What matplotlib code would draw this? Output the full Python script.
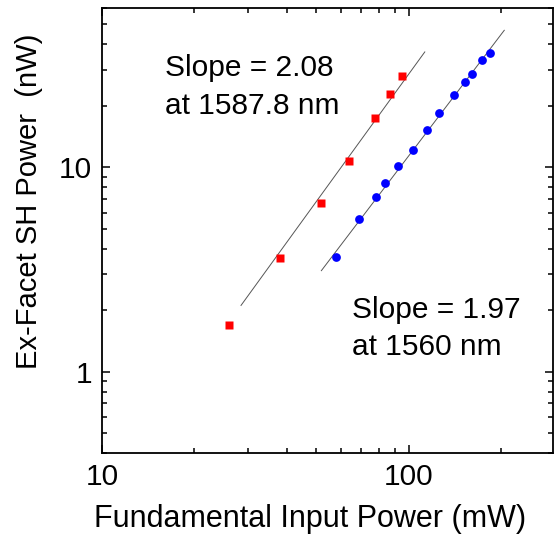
import numpy as np
import matplotlib
matplotlib.use("Agg")
import matplotlib.pyplot as plt
from matplotlib.ticker import LogLocator, NullFormatter, FixedLocator, FixedFormatter

plt.rcParams['font.family'] = ['Liberation Sans', 'DejaVu Sans']

# red squares, 1587.8 nm
red_x = [25.9, 38.0, 51.7, 63.8, 77.5, 86.7, 94.9]
red_y = [1.70, 3.58, 6.66, 10.7, 17.4, 22.8, 27.9]
# blue circles, 1560 nm
blue_x = [57.8, 68.7, 78.1, 83.5, 92.1, 103.0, 114.5, 125.2, 140.2, 152.2, 160.4, 172.9, 183.6]
blue_y = [3.62, 5.56, 7.13, 8.35, 10.1, 12.1, 15.2, 18.4, 22.5, 26.1, 28.6, 33.4, 36.2]
# fit lines (end points)
red_fit_x = [28.4, 112.8]
red_fit_y = [2.11, 36.6]
blue_fit_x = [51.9, 204.8]
blue_fit_y = [3.12, 46.7]

fig = plt.figure(figsize=(5.54, 5.35), dpi=100)
ax = fig.add_axes([0.184, 0.153, 0.814, 0.832])

ax.plot(red_fit_x, red_fit_y, color='#555555', lw=0.7)
ax.plot(blue_fit_x, blue_fit_y, color='#555555', lw=0.7)
ax.plot(red_x, red_y, 's', color='#ff0000', ms=5.5, mec='none')
ax.plot(blue_x, blue_y, 'o', color='#0000ff', ms=6.3, mec='none')

ax.set_xscale('log')
ax.set_yscale('log')
ax.set_xlim(10, 295)
ax.set_ylim(0.4, 60)

ax.xaxis.set_major_locator(FixedLocator([10, 100]))
ax.xaxis.set_major_formatter(FixedFormatter(['10', '100']))
ax.yaxis.set_major_locator(FixedLocator([1, 10]))
ax.yaxis.set_major_formatter(FixedFormatter(['1', '10']))
ax.xaxis.set_minor_locator(LogLocator(base=10, subs=np.arange(2, 10)))
ax.yaxis.set_minor_locator(LogLocator(base=10, subs=np.arange(2, 10)))
ax.xaxis.set_minor_formatter(NullFormatter())
ax.yaxis.set_minor_formatter(NullFormatter())

ax.tick_params(which='both', direction='in', top=True, right=True, width=1.1)
ax.tick_params(which='major', length=6, labelsize=21.5, pad=7)
ax.tick_params(which='minor', length=3.5)
for s in ax.spines.values():
    s.set_linewidth(1.3)

ax.set_xlabel('Fundamental Input Power (mW)', fontsize=22)
ax.set_ylabel('Ex-Facet SH Power  (nW)', fontsize=21)
ax.xaxis.set_label_coords(0.461, -0.114)
ax.yaxis.set_label_coords(-0.13, 0.566)

ax.text(0.140, 0.897, 'Slope = 2.08\nat 1587.8 nm', transform=ax.transAxes,
        fontsize=21.5, va='top', ha='left', linespacing=1.45)
ax.text(0.554, 0.354, 'Slope = 1.97\nat 1560 nm', transform=ax.transAxes,
        fontsize=21.5, va='top', ha='left', linespacing=1.45)

fig.savefig('out.png', dpi=100)
